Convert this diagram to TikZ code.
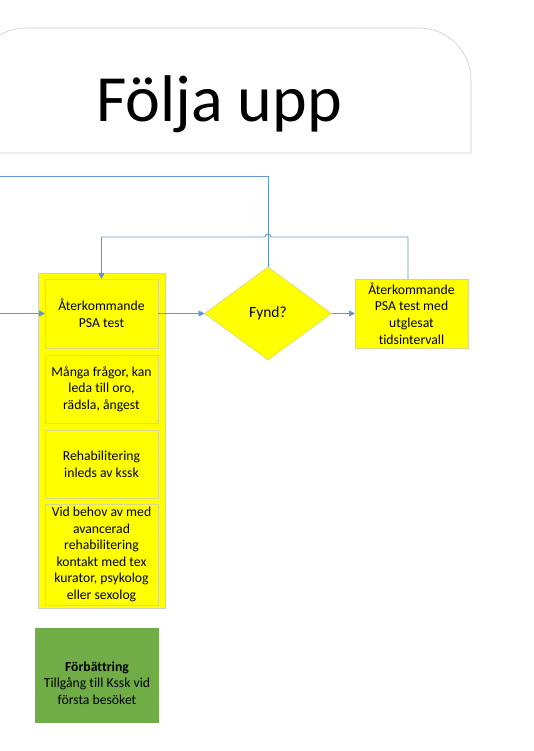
\documentclass[tikz,border=0pt]{standalone}
\usepackage{fontspec}
\setmainfont{Carlito}[Ligatures=NoCommon]
\usetikzlibrary{arrows.meta,shapes.geometric,calc}
\definecolor{lineblue}{RGB}{96,151,211}
\definecolor{ybox}{RGB}{255,255,0}
\definecolor{yedge}{RGB}{214,214,140}
\definecolor{outeredge}{RGB}{210,210,190}
\definecolor{gbox}{RGB}{112,173,71}
\definecolor{titleedge}{RGB}{200,206,214}
\tikzset{
  every node/.style={inner sep=0pt, outer sep=0pt},
  boxtext/.style={font=\fontsize{13.7}{16.6}\selectfont, align=center, text=black},
  ybx/.style={boxtext, draw=yedge, fill=ybox, line width=0.8pt, minimum width=113pt},
  outerbox/.style={draw=outeredge, fill=ybox, line width=0.8pt, minimum width=127pt, minimum height=335pt},
  decision/.style={diamond, draw=yedge, fill=ybox, line width=0.6pt, minimum width=127pt, minimum height=93pt, aspect=1.37,
    font=\fontsize{15.5}{18}\selectfont, text=black},
  gbx/.style={fill=gbox, minimum width=124pt, minimum height=95pt},
  conn/.style={draw=lineblue, line width=0.9pt},
  arr/.style={conn, -{Triangle[length=6pt,width=6pt]}},
}
\begin{document}
\begin{tikzpicture}[x=1pt,y=-1pt]
\useasboundingbox (0,0) rectangle (533,751);
% title
\draw[titleedge, line width=0.6pt, fill=white] (-26,153) -- (-26,80) arc[start angle=180, end angle=270, radius=52] -- (419,28) arc[start angle=270, end angle=360, radius=52] -- (471,153) -- cycle;
\node[font=\fontsize{66}{70}\selectfont, text=black] (title) at (219,104) {Följa upp};
% containers
\node[outerbox] (outer) at (101.5,440.5) {};
\node[ybx, minimum height=69pt] (psa) at (101.5,313.5) {Återkommande\\PSA test};
\node[ybx, minimum height=68pt] (manga) at (101.5,389) {Många frågor, kan\\leda till oro,\\rädsla, ångest};
\node[ybx, minimum height=68pt] (rehab) at (101.5,464) {Rehabilitering\\inleds av kssk};
\node[ybx, minimum height=101pt] (vid) at (101.5,554.5) {Vid behov av med\\avancerad\\rehabilitering\\kontakt med tex\\kurator, psykolog\\eller sexolog};
\node[decision] (dia) at (268,313.5) {Fynd?};
\node[ybx, minimum height=69pt] (rbox) at (411.5,313.5) {Återkommande\\PSA test med\\utglesat\\tidsintervall};
\node[gbx] (green) at (97,675.5) {};
\node[boxtext] (greentext) at (97,683) {\textbf{Förbättring}\\Tillgång till Kssk vid\\första besöket};
% connectors
\coordinate (inL) at (0,313.5);
\coordinate (topL) at (0,176);
\coordinate (rUp) at (408,237);
\coordinate (hopR) at (271,237);
\coordinate (lDown) at (101.5,237);
\draw[arr] (inL) -- (psa.west);
\draw[arr] (psa.east) -- (dia.west);
\draw[arr] (dia.east) -- (rbox.west);
\draw[conn] (topL) -| (dia.north);
\draw[conn] (rbox.north -| rUp) -- (rUp) -- (hopR) arc[start angle=0, end angle=-180, radius=3] -- (lDown);
\draw[arr] (lDown) -- (psa.north);
\end{tikzpicture}
\end{document}
